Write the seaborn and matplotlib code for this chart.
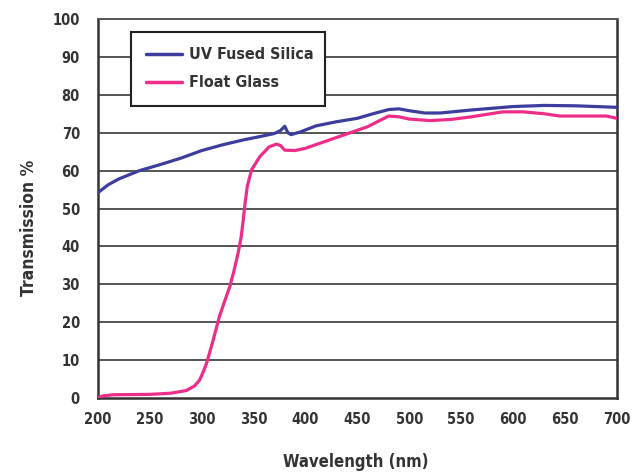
import numpy as np
import pandas as pd
import seaborn as sns
import matplotlib.pyplot as plt

# UV fused silica transmission curve
silica_wl = [200, 210, 220, 240, 260, 280, 300, 320, 340, 360, 370, 376, 380, 383, 386,
             395, 410, 430, 450, 465, 480, 490, 500, 515, 530, 560, 600, 630, 660, 700]
silica_t = [54.2, 56.3, 57.8, 60.0, 61.6, 63.3, 65.3, 66.8, 68.1, 69.2, 69.8, 70.6, 71.7, 70.0, 69.5,
            70.2, 71.8, 72.9, 73.8, 75.0, 76.1, 76.3, 75.8, 75.2, 75.2, 76.0, 76.9, 77.2, 77.1, 76.7]

# float glass transmission curve
glass_wl = [200, 205, 215, 250, 270, 285, 293, 298, 302, 305, 311, 317, 322, 327, 331,
            335, 338, 340, 342, 344, 348, 356, 365, 372, 376, 380, 390, 400, 420, 440,
            460, 470, 480, 490, 500, 520, 540, 560, 590, 610, 630, 645, 670, 690, 700]
glass_t = [0.2, 0.6, 0.9, 1.0, 1.3, 2.0, 3.2, 4.8, 7.3, 9.5, 15.3, 21.5, 25.5, 29.4, 33.5,
           38.2, 42.5, 47.0, 52.0, 56.0, 60.2, 63.7, 66.3, 67.0, 66.6, 65.4, 65.3, 65.9, 67.8, 69.7,
           71.6, 73.0, 74.4, 74.2, 73.6, 73.2, 73.5, 74.2, 75.5, 75.5, 75.0, 74.4, 74.4, 74.4, 73.8]

series = ['UV Fused Silica', 'Float Glass']
colors = ['#3d3d9e', '#ee2d8a']
x_ticks = [200, 250, 300, 350, 400, 450, 500, 550, 600, 650, 700]
y_ticks = [0, 10, 20, 30, 40, 50, 60, 70, 80, 90, 100]

df = pd.concat([
    pd.DataFrame({'wl': silica_wl, 't': silica_t, 'material': series[0]}),
    pd.DataFrame({'wl': glass_wl, 't': glass_t, 'material': series[1]}),
])

sns.set_style('white')
plt.rcParams['font.family'] = ['DejaVu Sans']
plt.rcParams['font.stretch'] = 'condensed'

fig = plt.figure(figsize=(6.32, 4.74), dpi=100)
ax = fig.add_axes([0.155, 0.160, 0.821, 0.800])

for y in y_ticks[1:-1]:
    ax.axhline(y, color='#555555', lw=1.4, zorder=1)

sns.lineplot(data=df, x='wl', y='t', hue='material', hue_order=series,
             palette=colors, lw=2.3, ax=ax, zorder=3)

ax.set_xlim(200, 700)
ax.set_ylim(0, 100)
ax.set_xticks(x_ticks)
ax.set_yticks(y_ticks)
ax.tick_params(axis='both', direction='out', length=4, width=1.2, color='#333333',
               labelsize=10.5, labelcolor='#333333')
ax.tick_params(axis='y', pad=9)
ax.tick_params(axis='x', pad=6)
for lab in ax.get_xticklabels() + ax.get_yticklabels():
    lab.set_fontweight('bold')
for s in ax.spines.values():
    s.set_color('#333333')
    s.set_linewidth(1.8)
ax.spines['top'].set_color('#555555')
ax.spines['top'].set_linewidth(1.4)

ax.set_xlabel('Wavelength (nm)', fontsize=12, fontweight='bold', color='#333333')
ax.set_ylabel('Transmission %', fontsize=12.5, fontweight='bold', color='#333333')
ax.xaxis.set_label_coords(0.497, -0.144)
ax.yaxis.set_label_coords(-0.116, 0.449)

leg = ax.legend(loc='upper left', bbox_to_anchor=(0.0636, 0.770, 0.374, 0.1957), mode='expand',
                frameon=True, fancybox=False, fontsize=11.5, handlelength=2.25,
                handletextpad=0.4, borderpad=0.97, labelspacing=0.8, borderaxespad=0)
leg.get_frame().set_edgecolor('#222222')
leg.get_frame().set_linewidth(1.5)
leg.get_frame().set_alpha(1)
for t in leg.get_texts():
    t.set_fontweight('bold')
    t.set_color('#333333')
for h in leg.get_lines():
    h.set_linewidth(2.5)

fig.savefig('out.png', dpi=100)
